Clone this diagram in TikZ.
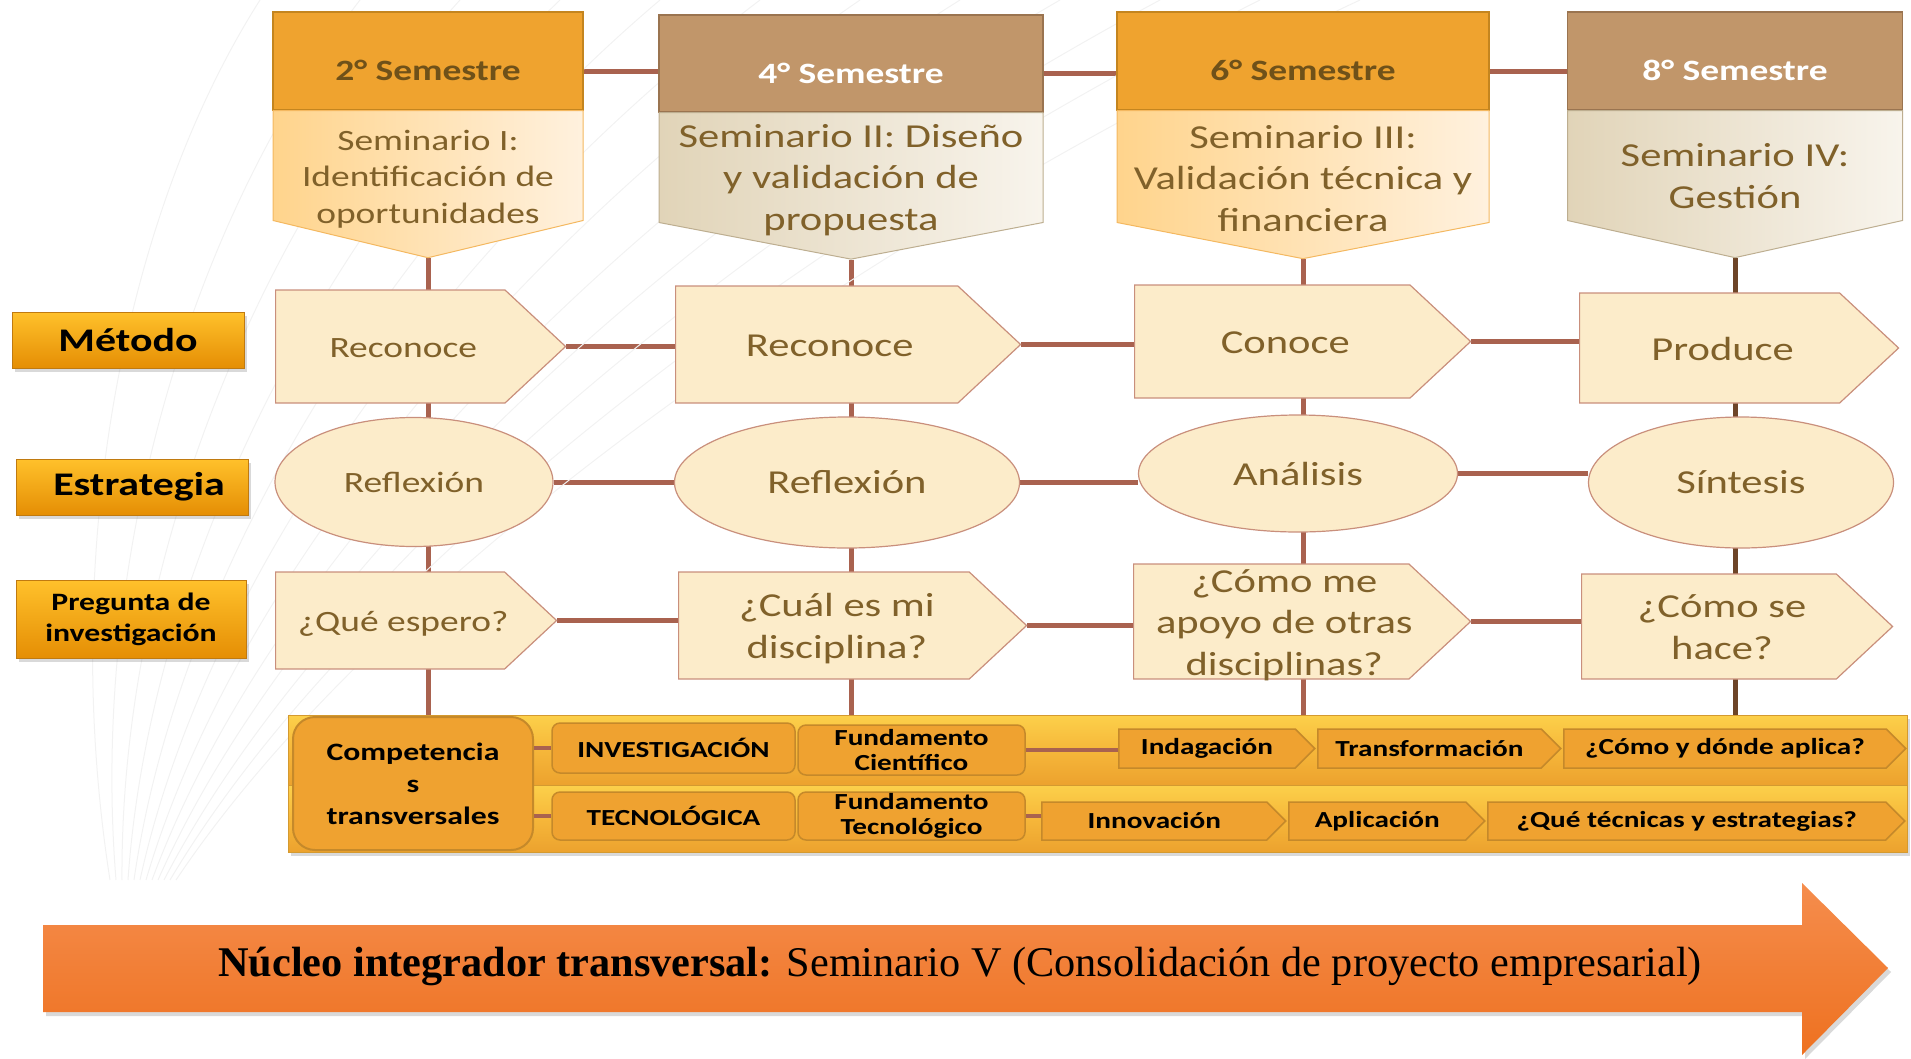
\documentclass[tikz,border=0pt]{standalone}
\usepackage{fontspec}
\setmainfont{Carlito}[FakeStretch=1.27]
\newfontfamily\timesfont{Liberation Serif}
\usetikzlibrary{shapes.symbols,shapes.geometric,positioning,backgrounds,shadows}

\definecolor{semorange}{HTML}{EFA32F}
\definecolor{semorangeline}{HTML}{C4851F}
\definecolor{sembrown}{HTML}{C1966A}
\definecolor{sembrownline}{HTML}{9A7450}
\definecolor{semtxt}{HTML}{6F5119}
\definecolor{suborL}{HTML}{FFD48C}
\definecolor{suborR}{HTML}{FFF1DE}
\definecolor{suborline}{HTML}{F4B860}
\definecolor{subbrL}{HTML}{E1D4B8}
\definecolor{subbrR}{HTML}{F8F4EC}
\definecolor{subbrline}{HTML}{BDAE90}
\definecolor{cream}{HTML}{FCECCA}
\definecolor{creamline}{HTML}{C98F7C}
\definecolor{txtbrown}{HTML}{80612A}
\definecolor{linkc}{HTML}{A9624F}
\definecolor{linkdark}{HTML}{6E4528}
\definecolor{labtop}{HTML}{FFC12B}
\definecolor{labbot}{HTML}{E58E04}
\definecolor{labline}{HTML}{C07A10}
\definecolor{panelhi}{HTML}{FCD04A}
\definecolor{panel}{HTML}{F6B73A}
\definecolor{panellow}{HTML}{ECA22E}
\definecolor{panelline}{HTML}{D49A30}
\definecolor{boxor}{HTML}{EFA230}
\definecolor{boxline}{HTML}{C5892A}
\definecolor{nucleotop}{HTML}{F58D4D}
\definecolor{nucleobot}{HTML}{EE7120}

\newcommand\txtA{\fontsize{29.5}{36.5}\selectfont}
\newcommand\txtB{\fontsize{33.5}{41.5}\selectfont}
% text block of no size, lowered inside the seminar pentagons
\newcommand\bajar[2]{\makebox[0pt]{\raisebox{-#1}[0pt][0pt]{\begin{tabular}{@{}c@{}}#2\end{tabular}}}}
% text block of no height, pushed right inside the pointed boxes
\newcommand\derecha[1]{\hspace*{13pt}\raisebox{-10pt}[0pt][0pt]{\begin{tabular}{@{}c@{}}#1\end{tabular}}\hspace*{-13pt}}

\begin{document}
\begin{tikzpicture}[x=1pt,y=-1pt,
    sombra/.style={drop shadow={opacity=0.3,shadow xshift=3pt,shadow yshift=-4pt}},
    semhead/.style={rectangle,line width=1.5pt,inner sep=0pt,
      font=\fontsize{29.5}{34}\selectfont\bfseries,text height=39pt,text depth=0pt},
    semsub/.style={signal,signal to=south,signal from=nowhere,minimum width=0pt,minimum height=0pt,
      line width=1pt,text=txtbrown,anchor=north},
    metodo/.style={signal,signal to=east,signal from=nowhere,signal pointer angle=86,
      fill=cream,draw=creamline,line width=1.2pt,text=txtbrown,anchor=west,inner sep=0pt},
    estrat/.style={ellipse,fill=cream,draw=creamline,line width=1.2pt,text=txtbrown,inner sep=0pt},
    rowlabel/.style={rectangle,top color=labtop,bottom color=labbot,draw=labline,line width=1pt,
      align=center,inner sep=0pt,sombra},
    caja/.style={rectangle,rounded corners=8pt,fill=boxor,draw=boxline,line width=1.5pt,
      align=center,inner sep=0pt,font=\fontsize{23}{25}\selectfont\bfseries},
    paso/.style={signal,signal to=east,signal from=nowhere,signal pointer angle=90,
      fill=boxor,draw=boxline,line width=1.5pt,anchor=west,inner sep=0pt,
      font=\fontsize{23}{25}\selectfont\bfseries},
    link/.style={draw=linkc,line width=5pt}]
  \useasboundingbox (0,0) rectangle (1911,1058);

  % faint background lines
  \foreach \k in {0,...,11}
    \draw[black!5,line width=1pt] (110+\k*6,880) .. controls (60+\k*30,560) and (120+\k*70,220) .. (260+\k*100,0);

  % semesters
  \node[semhead,fill=semorange,draw=semorangeline,text=semtxt,minimum width=310pt,minimum height=98pt] (h1) at (428,61) {2° Semestre};
  \node[semhead,fill=sembrown,draw=sembrownline,text=white,minimum width=384pt,minimum height=97pt] (h2) at (851,63.5) {4° Semestre};
  \node[semhead,fill=semorange,draw=semorangeline,text=semtxt,minimum width=372pt,minimum height=98pt] (h3) at (1303,61) {6° Semestre};
  \node[semhead,fill=sembrown,draw=sembrownline,text=white,minimum width=335pt,minimum height=98pt] (h4) at (1735,61) {8° Semestre};

  \node[semsub,signal pointer angle=153,left color=suborL,right color=suborR,draw=suborline,
    inner xsep=155pt,inner ysep=55pt,font=\txtA] (s1) at (428,110)
    {\bajar{20pt}{Seminario I:\\Identificación de\\oportunidades}};
  \node[semsub,signal pointer angle=158.4,left color=subbrL,right color=subbrR,draw=subbrline,
    inner xsep=192pt,inner ysep=55pt,font=\txtB] (s2) at (851,112)
    {\bajar{19pt}{Seminario II: Diseño\\y validación de\\propuesta}};
  \node[semsub,signal pointer angle=158,left color=suborL,right color=suborR,draw=suborline,
    inner xsep=186pt,inner ysep=56pt,font=\txtB] (s3) at (1303,110)
    {\bajar{21pt}{Seminario III:\\Validación técnica y\\financiera}};
  \node[semsub,signal pointer angle=155,left color=subbrL,right color=subbrR,draw=subbrline,
    inner xsep=167.5pt,inner ysep=55pt,font=\txtB] (s4) at (1735,110)
    {\bajar{20pt}{Seminario IV:\\Gestión}};

  % rows
  \node[rowlabel,minimum width=232pt,minimum height=56pt,font=\fontsize{33}{36}\selectfont\bfseries] (lm) at (128,340) {Método};
  \node[rowlabel,minimum width=232pt,minimum height=56pt,font=\fontsize{33}{36}\selectfont\bfseries] (le) at (132,487) {\hspace*{14pt}Estrategia};
  \node[rowlabel,minimum width=230pt,minimum height=78pt,font=\fontsize{25}{31}\selectfont\bfseries] (lq) at (131,619) {Pregunta de\\investigación};

  \node[metodo,minimum width=290pt,minimum height=113pt,font=\txtA] (m1) at (275,346.5) {\derecha{Reconoce}};
  \node[metodo,minimum width=345pt,minimum height=117pt,font=\txtB] (m2) at (675,344.5) {\derecha{Reconoce}};
  \node[metodo,minimum width=336pt,minimum height=113pt,font=\txtB] (m3) at (1134,341.5) {\derecha{Conoce}};
  \node[metodo,minimum width=319pt,minimum height=110pt,font=\txtB] (m4) at (1579,348) {\derecha{Produce}};

  \node[estrat,minimum width=278pt,minimum height=129pt,font=\txtA] (e1) at (414,482) {Reflexión};
  \node[estrat,minimum width=345pt,minimum height=131pt,font=\txtB] (e2) at (847,482.5) {Reflexión};
  \node[estrat,minimum width=319pt,minimum height=117pt,font=\txtB] (e3) at (1298,473.5) {Análisis};
  \node[estrat,minimum width=305pt,minimum height=131pt,font=\txtB] (e4) at (1741,482.5) {Síntesis};

  \node[metodo,minimum width=281pt,minimum height=97pt,font=\txtA] (q1) at (275,620.5) {\derecha{¿Qué espero?}};
  \node[metodo,minimum width=348pt,minimum height=107pt,font=\txtB] (q2) at (678,625.5) {\derecha{¿Cuál es mi\\disciplina?}};
  \node[metodo,minimum width=337pt,minimum height=115pt,font=\txtB] (q3) at (1133,621.5) {\derecha{¿Cómo me\\apoyo de otras\\disciplinas?}};
  \node[metodo,minimum width=311pt,minimum height=105pt,font=\txtB] (q4) at (1581,626.5) {\derecha{¿Cómo se\\hace?}};

  % competencias
  \path[sombra,fill=panel] (288,715) rectangle (1907,852);
  \node[rectangle,top color=panelhi,bottom color=panellow,middle color=panel,draw=panelline,line width=1pt,
    minimum width=1619pt,minimum height=70pt,inner sep=0pt] (pa) at (1097.5,750) {};
  \node[rectangle,top color=panelhi,bottom color=panellow,middle color=panel,draw=panelline,line width=1pt,
    minimum width=1619pt,minimum height=67pt,inner sep=0pt] (pb) at (1097.5,818.5) {};

  \node[caja,rounded corners=22pt,line width=2pt,minimum width=240pt,minimum height=133pt,
    font=\fontsize{25}{32}\selectfont\bfseries] (comp) at (413,783.5) {Competencia\\s\\transversales};
  \node[caja,minimum width=243pt,minimum height=50pt] (inv) at (673.5,748) {INVESTIGACIÓN};
  \node[caja,minimum width=227pt,minimum height=50pt] (fc) at (911.5,750) {Fundamento\\Científico};
  \node[paso,minimum width=196pt,minimum height=39pt] (ind) at (1118,748.5) {Indagación};
  \node[paso,minimum width=243pt,minimum height=39pt] (tra) at (1317,748.5) {Transformación};
  \node[paso,minimum width=342pt,minimum height=39pt] (dap) at (1563,748.5) {¿Cómo y dónde aplica?};

  \node[caja,minimum width=243pt,minimum height=48pt] (tec) at (673.5,816) {TECNOLÓGICA};
  \node[caja,minimum width=227pt,minimum height=48pt] (ft) at (911.5,816) {Fundamento\\Tecnológico};
  \node[paso,minimum width=244pt,minimum height=38pt] (inn) at (1041,821) {Innovación};
  \node[paso,minimum width=196pt,minimum height=38pt] (apl) at (1288,821) {Aplicación};
  \node[paso,minimum width=417pt,minimum height=38pt] (tye) at (1487,821) {¿Qué técnicas y estrategias?};

  \draw[link,line width=4pt] (inv.west -| comp.east) -- (inv.west);
  \draw[link,line width=4pt] (tec.west -| comp.east) -- (tec.west);
  \draw[link,line width=4pt] (fc.east) -- (fc.east -| ind.west);
  \draw[link,line width=4pt] (ft.east) -- (ft.east -| inn.west);

  % connectors
  \begin{pgfonlayer}{background}
    \foreach \c in {1,2,3}
      \draw[link] (s\c.south) -- (s\c.south |- pa.north);
    \draw[link,draw=linkdark] (s4.south) -- (s4.south |- pa.north);
    \foreach \a/\b in {1/2,2/3,3/4} {
      \draw[link] ([yshift=-10pt]h\a.east) -- ([yshift=-10pt]h\a.east -| h\b.west);
      \draw[link] (m\a.east) -- (m\a.east -| m\b.west);
      \draw[link] (e\a.east) -- (e\a.east -| e\b.west);
      \draw[link] (q\a.east) -- (q\a.east -| q\b.west);
    }
  \end{pgfonlayer}

  % nucleo integrador
  \path[sombra,top color=nucleotop,bottom color=nucleobot]
    (43,925) -- (1802,925) -- (1802,883) -- (1888,968) -- (1802,1055) -- (1802,1012) -- (43,1012) -- cycle;
  \node[font=\timesfont\fontsize{42.3}{48}\selectfont] (nucleo) at (960,966)
    {\textbf{Núcleo integrador transversal:} Seminario V (Consolidación de proyecto empresarial)};
\end{tikzpicture}
\end{document}
